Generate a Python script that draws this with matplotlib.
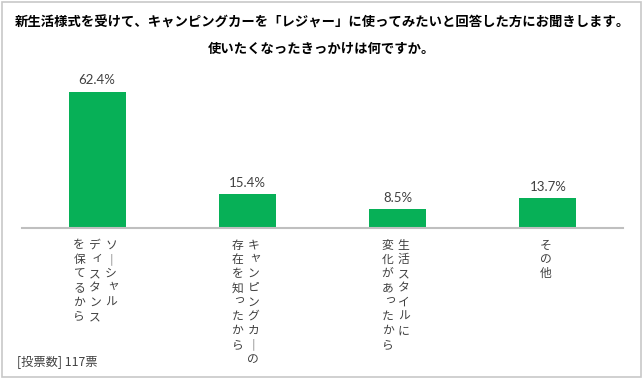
import matplotlib.pyplot as plt
from matplotlib.patches import Rectangle

plt.rcParams["font.family"] = ["Noto Sans CJK JP", "DejaVu Sans"]

# 回答項目（縦書き、列は改行で区切る：右の列から）
labels = [
    "ソーシャル\nディスタンス\nを保てるから",
    "キャンピングカーの\n存在を知ったから",
    "生活スタイルに\n変化があったから",
    "その他",
]
values = [62.4, 15.4, 8.5, 13.7]

title = "新生活様式を受けて、キャンピングカーを「レジャー」に使ってみたいと回答した方にお聞きします。\n使いたくなったきっかけは何ですか。"
note = "[投票数] 117票"

W, H = 644, 379
PT = 0.72  # px -> pt (dpi 100)

fig = plt.figure(figsize=(W / 100, H / 100), dpi=100)
ax = fig.add_axes([22 / W, (H - 228) / H, 601 / W, 153 / H])

x = range(len(values))
ax.bar(x, values, width=0.38, color="#07B057", zorder=2)

ax.set_xlim(-0.5, len(values) - 0.5)
ax.set_ylim(0, 70)
for s in ["left", "right", "top"]:
    ax.spines[s].set_visible(False)
ax.spines["bottom"].set_color("#BFBFBF")
ax.spines["bottom"].set_linewidth(1.5)
ax.set_xticks([])
ax.set_yticks([])

# 数値ラベル
for i, v in zip(x, values):
    ax.annotate(f"{v:.1f}%", xy=(i, v), xytext=(0, 4), textcoords="offset points",
                ha="center", va="bottom", fontsize=9.5, color="#404040",
                family=["Lato", "DejaVu Sans"])

# 縦書きの項目ラベル
small = set("ャュョッァィゥェォっゃゅょ")
col_gap = 16.0
pitch = 14.3
for i, lab in zip(x, labels):
    cols = lab.split("\n")
    n = len(cols)
    for j, col in enumerate(cols):
        cx = -2 + (n - 1) / 2 * col_gap - j * col_gap
        for k, ch in enumerate(col):
            dx, dy = cx, -17 - k * pitch
            if ch == "ー":
                ch = "｜"
            if ch in small:
                dx += 2
                dy += 2
            ax.annotate(ch, xy=(i, 0), xytext=(dx * PT, dy * PT),
                        textcoords="offset points", ha="center", va="center",
                        fontsize=8.5, color="#404040")

fig.text(0.5, 1 - 23 / H, title.split("\n")[0], ha="center", va="center",
         fontsize=9.6, fontweight="bold", color="black")
fig.text(0.5, 1 - 49 / H, title.split("\n")[1], ha="center", va="center",
         fontsize=9.6, fontweight="bold", color="black")
fig.text(17 / W, 1 - 362 / H, note, ha="left", va="center",
         fontsize=8.8, color="#404040")

# 外枠
fig.patches.append(Rectangle((2 / W, 2 / H), 639 / W, 375 / H, transform=fig.transFigure,
                             fill=False, edgecolor="#C8C8C8", linewidth=1.2))

fig.savefig("out.png", dpi=100)
